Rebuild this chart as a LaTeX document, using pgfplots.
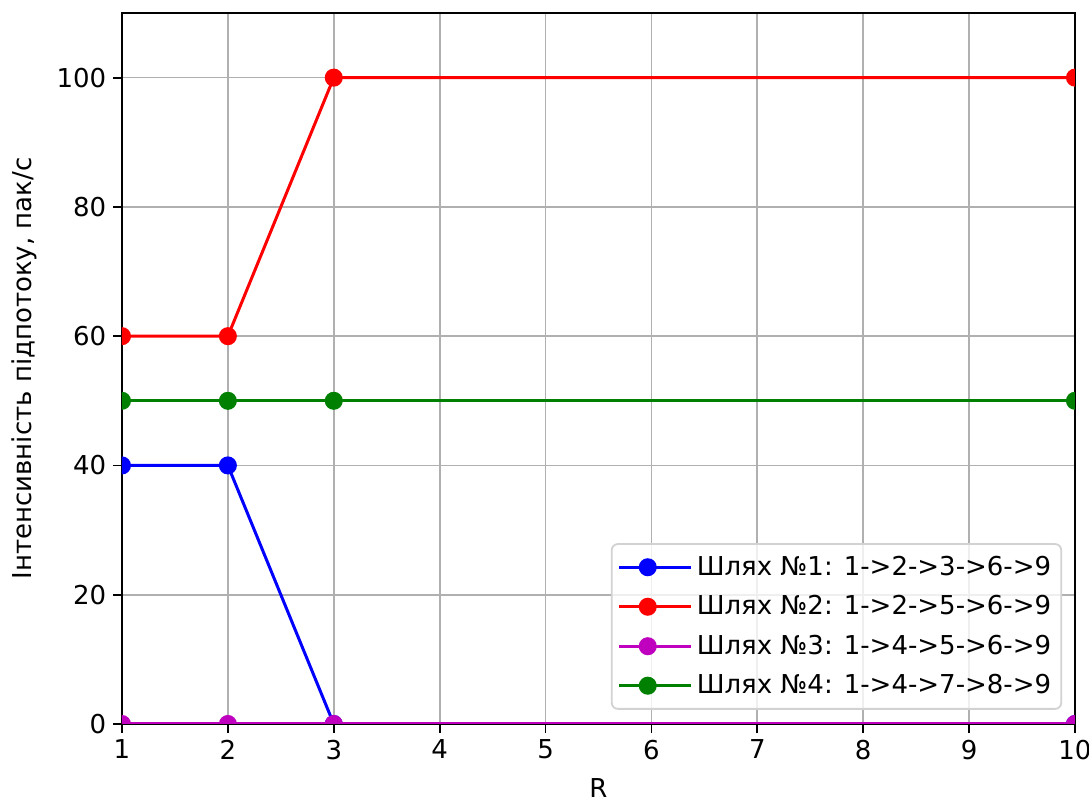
\documentclass[border=0pt]{standalone}
\usepackage{pgfplots}
\pgfplotsset{compat=1.18}
\usepackage{fontspec}
\setmainfont{DejaVu Sans}
\definecolor{mplm}{RGB}{191,0,191}
\definecolor{mplg}{RGB}{0,128,0}
\definecolor{gridc}{RGB}{176,176,176}
\begin{document}
\begin{tikzpicture}
\path[use as bounding box] (-61pt,-39pt) rectangle (483.5pt,362pt);
\begin{axis}[
  at={(0pt,0pt)}, anchor=south west,
  scale only axis, width=476.5pt, height=355.5pt,
  xmin=1, xmax=10, ymin=0, ymax=110,
  xtick={1,2,...,10}, ytick={0,20,...,100},
  tick pos=left,
  grid=major, major grid style={gridc, line width=0.85pt},
  tick align=outside, tick style={black, line width=0.9pt},
  major tick length=4.4pt,
  axis line style={line width=0.9pt},
  /pgf/number format/assume math mode=true,
  ticklabel style={font=\fontsize{13}{15}\selectfont},
  label style={font=\fontsize{13}{15}\selectfont},
  xlabel={R}, ylabel={Інтенсивність підпотоку, пак/с},
  xlabel style={yshift=-2.5pt},
  ylabel style={yshift=3pt},
  clip marker paths=true,
  every axis plot/.append style={line width=1.5pt, mark=*, mark size=3.75pt},
  legend style={at={(0.9865,0.02)}, anchor=south east, font=\fontsize{13}{15}\selectfont,
    draw=gray!35, line width=0.9pt, rounded corners=3pt, fill=white, fill opacity=0.8, text opacity=1,
    row sep=4.6pt, inner xsep=3pt, inner ysep=4pt},
  legend cell align=left,
  legend image code/.code={
    \path (0pt,0pt) -- (36pt,0pt);
    \draw[#1, mark=none, draw opacity=1] (0pt,0pt) -- (28.5pt,0pt);
    \draw[#1, mark=*, fill opacity=1, draw opacity=1] plot coordinates {(14.25pt,0pt)};
  },
]
\addplot[color=blue, mark options={fill=blue, draw=blue}] coordinates {(1,40) (2,40) (3,0) (10,0)};
\addlegendentry{Шлях №1: 1->2->3->6->9}
\addplot[color=red, mark options={fill=red, draw=red}] coordinates {(1,60) (2,60) (3,100) (10,100)};
\addlegendentry{Шлях №2: 1->2->5->6->9}
\addplot[color=mplm, mark options={fill=mplm, draw=mplm}] coordinates {(1,0) (2,0) (3,0) (10,0)};
\addlegendentry{Шлях №3: 1->4->5->6->9}
\addplot[color=mplg, mark options={fill=mplg, draw=mplg}] coordinates {(1,50) (2,50) (3,50) (10,50)};
\addlegendentry{Шлях №4: 1->4->7->8->9}
\end{axis}
\end{tikzpicture}
\end{document}
